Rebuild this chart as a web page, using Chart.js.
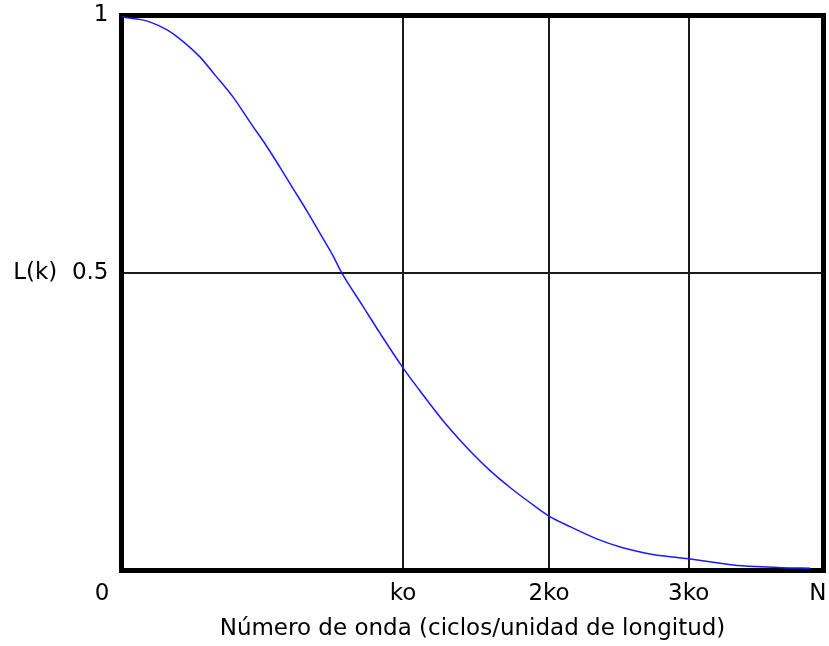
<!DOCTYPE html>
<html>
<head>
<meta charset="utf-8">
<script src="https://cdn.jsdelivr.net/npm/chart.js@4/dist/chart.umd.min.js"></script>
<style>
  html, body { margin: 0; padding: 0; background: #fff; }
</style>
</head>
<body>
<canvas id="chart" width="829" height="646"></canvas>
<script>
// x axis runs 0..100 from the left edge (0) to the right edge (N)
const xTickValues = [0, 40.1, 60.9, 80.8, 100];
const xTickLabels = ['0\u2003\u2002\u2009', 'ko', '2ko', '3ko', 'N\u2002'];
const yTickValues = [0, 0.536, 1];
const yTickLabels = ['', 'L(k)  0.5', '1'];

// L(k) curve
const kValues = [0, 0.8, 2.6, 4.1, 6.5, 8.3, 11.2, 13.3, 15.9, 18.3, 20.7, 22.6, 24.4, 26.4, 28.3, 30.0,
  31.4, 34.4, 36.8, 40.1, 42.5, 45.8, 50.6, 52.5, 55.8, 59.2, 60.9, 63.9, 67.7, 71.4, 75.7, 80.8,
  85.3, 87.1, 90.3, 94.0, 98.1];
const lValues = [0.998, 0.996, 0.993, 0.988, 0.974, 0.958, 0.925, 0.893, 0.853, 0.808, 0.764, 0.726, 0.689, 0.648, 0.607, 0.570,
  0.536, 0.476, 0.428, 0.365, 0.324, 0.270, 0.203, 0.180, 0.145, 0.113, 0.098, 0.079, 0.057, 0.041, 0.029, 0.021,
  0.013, 0.010, 0.007, 0.005, 0.004];

const FONT = { family: 'DejaVu Sans', size: 23 };

const frame = {
  id: 'frame',
  beforeDatasetsDraw(chart) {
    const a = chart.chartArea;
    const ctx = chart.ctx;
    ctx.save();
    ctx.strokeStyle = '#000';
    ctx.lineWidth = 5;
    ctx.strokeRect(a.left, a.top, a.right - a.left, a.bottom - a.top);
    ctx.restore();
  }
};

function noOverflow(scale) {
  scale.paddingTop = 0;
  scale.paddingBottom = 0;
  scale.paddingLeft = 0;
  scale.paddingRight = 0;
}

new Chart(document.getElementById('chart').getContext('2d'), {
  type: 'line',
  data: {
    datasets: [{
      data: kValues.map((k, i) => ({ x: k, y: lValues[i] })),
      borderColor: '#1a1aff',
      borderWidth: 1.5,
      pointRadius: 0,
      cubicInterpolationMode: 'monotone',
      fill: false
    }]
  },
  options: {
    responsive: false,
    animation: false,
    devicePixelRatio: 1,
    layout: { padding: { top: 15.5, right: 5.5, left: 0, bottom: 0 } },
    plugins: { legend: { display: false }, tooltip: { enabled: false } },
    scales: {
      x: {
        type: 'linear',
        min: 0,
        max: 100,
        afterFit(scale) { scale.height = 75.5; noOverflow(scale); },
        afterBuildTicks(scale) { scale.ticks = xTickValues.map(v => ({ value: v })); },
        ticks: {
          font: FONT,
          color: '#000',
          padding: 10,
          maxRotation: 0,
          autoSkip: false,
          callback: (v, i) => xTickLabels[i]
        },
        grid: { color: '#1a1a1a', lineWidth: 2, drawTicks: false },
        border: { display: false },
        title: {
          display: true,
          text: 'Número de onda (ciclos/unidad de longitud)',
          font: FONT,
          color: '#000',
          padding: { top: 0, bottom: 3 }
        }
      },
      y: {
        type: 'linear',
        min: 0,
        max: 1,
        afterFit(scale) { scale.width = 121.5; noOverflow(scale); },
        afterBuildTicks(scale) { scale.ticks = yTickValues.map(v => ({ value: v })); },
        ticks: {
          font: FONT,
          color: '#000',
          padding: 13,
          autoSkip: false,
          callback: (v, i) => yTickLabels[i]
        },
        grid: { color: '#1a1a1a', lineWidth: 2, drawTicks: false },
        border: { display: false }
      }
    }
  },
  plugins: [frame]
});
</script>
</body>
</html>
